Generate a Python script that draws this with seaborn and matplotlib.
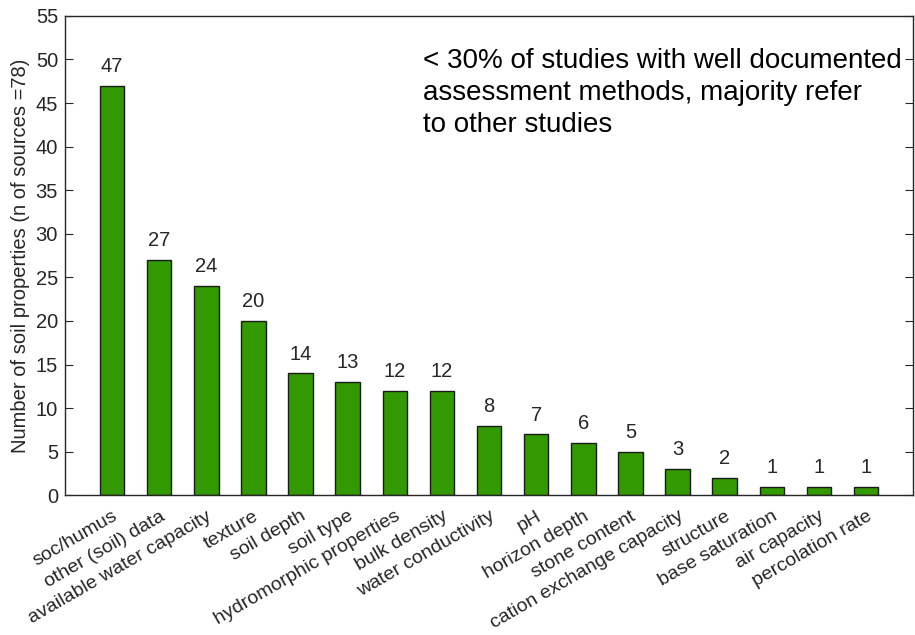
import numpy as np
import pandas as pd
import matplotlib
matplotlib.use('Agg')
import matplotlib.pyplot as plt
import seaborn as sns

# data
properties = ['soc/humus', 'other (soil) data', 'available water capacity', 'texture',
              'soil depth', 'soil type', 'hydromorphic properties', 'bulk density',
              'water conductivity', 'pH', 'horizon depth', 'stone content',
              'cation exchange capacity', 'structure', 'base saturation',
              'air capacity', 'percolation rate']
counts = [47, 27, 24, 20, 14, 13, 12, 12, 8, 7, 6, 5, 3, 2, 1, 1, 1]
yticks = list(range(0, 56, 5))
note = '< 30% of studies with well documented\nassessment methods, majority refer\nto other studies'

df = pd.DataFrame({'property': properties, 'count': counts})

sns.set_style('white')
plt.rcParams['font.family'] = ['Liberation Sans', 'DejaVu Sans']
ink = '#262626'

fig, ax = plt.subplots(figsize=(9.15, 6.35), dpi=100)
fig.subplots_adjust(left=0.071, right=0.998, top=0.975, bottom=0.22)

sns.barplot(x='property', y='count', data=df, color='#339900', saturation=1,
            edgecolor='#1a1a1a', linewidth=1.0, width=0.52, ax=ax)

# value labels above bars
for i, v in enumerate(counts):
    ax.annotate(str(v), (i, v), xytext=(0, 7), textcoords='offset points',
                ha='center', va='bottom', fontsize=14.5, color=ink)

ax.set_xlim(-1, len(properties))
ax.set_ylim(0, 55)
ax.set_yticks(yticks)
ax.set_xlabel('')
ax.set_ylabel('Number of soil properties (n of sources =78)', fontsize=14.5, color=ink)

ax.set_xticks(range(len(properties)))
ax.set_xticklabels(properties, rotation=30, ha='right', rotation_mode='anchor',
                   fontsize=14, color=ink)
ax.tick_params(axis='x', which='major', length=0, pad=9)
ax.set_xticks(np.arange(1, len(properties), 2), minor=True)
ax.tick_params(axis='x', which='minor', direction='in', top=True, bottom=False, length=6,
               color=ink)
ax.tick_params(axis='y', direction='in', left=True, right=True, length=6, labelsize=14.5,
               labelcolor=ink, color=ink, pad=5)

for s in ax.spines.values():
    s.set_visible(True)
    s.set_color(ink)
    s.set_linewidth(1.0)

ax.text(0.422, 0.932, note, transform=ax.transAxes, ha='left', va='top',
        fontsize=20, color='black', linespacing=1.3)

plt.savefig('out.png', dpi=100)
